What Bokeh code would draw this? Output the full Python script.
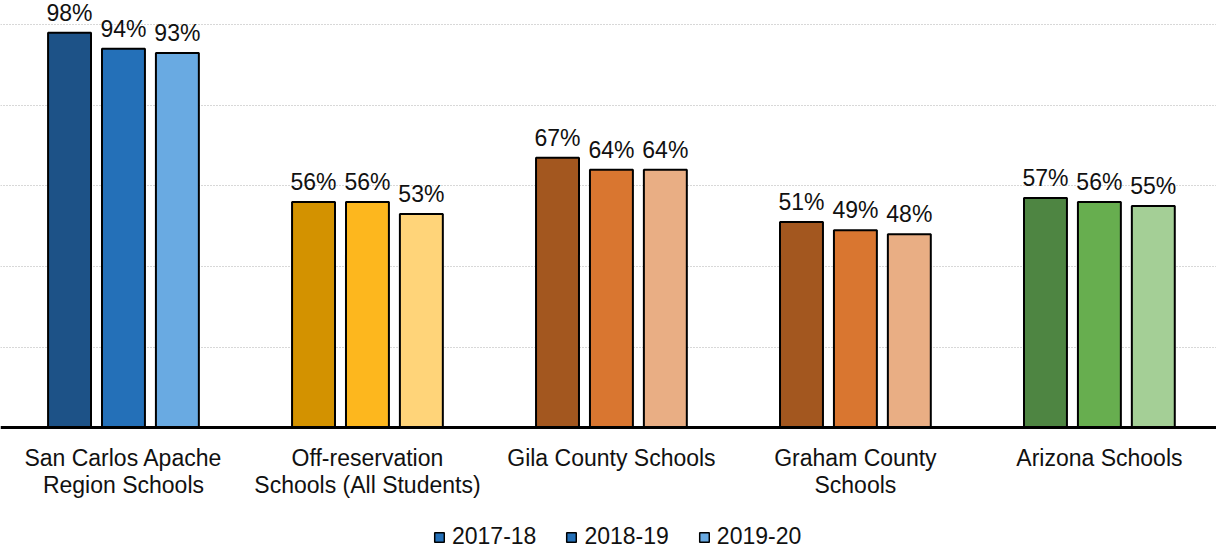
from bokeh.plotting import figure
from bokeh.models import (ColumnDataSource, Range1d, FixedTicker, Legend, LegendItem, LabelSet, Span)
from bokeh.core.properties import value
from bokeh.embed import file_html
from bokeh.resources import INLINE

categories = ["San Carlos Apache\nRegion Schools", "Off-reservation\nSchools (All Students)",
              "Gila County Schools", "Graham County\nSchools", "Arizona Schools"]
years = ["2017-18", "2018-19", "2019-20"]
v_2017_18 = [98, 56, 67, 51, 57]
v_2018_19 = [94, 56, 64, 49, 56]
v_2019_20 = [93, 53, 64, 48, 55]
group_colors = [
    ["#1D5287", "#2470B8", "#69AAE2"],
    ["#D39200", "#FDB71E", "#FFD479"],
    ["#A3571F", "#D97630", "#E9AE84"],
    ["#A3571F", "#D97630", "#E9AE84"],
    ["#4E8542", "#67AE4F", "#A4CF96"],
]
legend_colors = ["#2470B8", "#2470B8", "#69AAE2"]

FONT = "Liberation Sans"
series = [v_2017_18, v_2018_19, v_2019_20]
offsets = [-0.221, 0.0, 0.221]

xs, tops, cols, labels = [], [], [], []
for gi in range(len(categories)):
    for si in range(3):
        xs.append(gi + offsets[si])
        tops.append(series[si][gi])
        cols.append(group_colors[gi][si])
        labels.append(f"{series[si][gi]}%")
src = ColumnDataSource(dict(x=xs, top=tops, color=cols, label=labels))

p = figure(width=1216, height=550, output_backend="svg", toolbar_location=None,
           x_range=Range1d(-0.504, 4.48), y_range=Range1d(-30.5, 106),
           min_border_left=0, min_border_right=0, min_border_top=0, min_border_bottom=0)
p.outline_line_color = None
p.background_fill_color = "white"
p.xaxis.visible = False
p.yaxis.visible = False
p.xgrid.visible = False
p.ygrid.ticker = FixedTicker(ticks=[20, 40, 60, 80, 100])
p.ygrid.grid_line_color = "#B0B0B0"
p.ygrid.grid_line_dash = "1 2"
p.ygrid.grid_line_width = 1

p.vbar(x="x", top="top", width=0.176, bottom=0, source=src, fill_color="color",
       line_color="black", line_width=2)

p.add_layout(Span(location=0, dimension="width", line_color="black", line_width=3))

p.add_layout(LabelSet(x="x", y="top", text="label", source=src, text_align="center",
                      text_baseline="alphabetic", y_offset=12, text_font=value(FONT),
                      text_font_size="23px", text_color="#111111"))

cat_src = ColumnDataSource(dict(x=list(range(len(categories))), y=[0] * len(categories),
                                text=categories))
p.text(x="x", y="y", text="text", source=cat_src, text_align="center", text_baseline="top",
       y_offset=17, text_font=value(FONT), text_font_size="23px", text_color="#111111",
       text_line_height=1.05)

items = []
for yr, c in zip(years, legend_colors):
    r = p.quad(left=[-3.0], right=[-2.9], top=[1], bottom=[0], fill_color=c,
               line_color="black", line_width=1.5)
    items.append(LegendItem(label=yr, renderers=[r]))
leg = Legend(items=items, orientation="horizontal", location=(433, 0),
             label_text_font=FONT, label_text_font_size="23px", label_text_color="#111111",
             glyph_width=12, glyph_height=12, label_standoff=7, spacing=29,
             border_line_color=None, background_fill_alpha=0, padding=0, margin=0)
p.add_layout(leg, "center")

open("out.html", "w").write(file_html(p, INLINE))
